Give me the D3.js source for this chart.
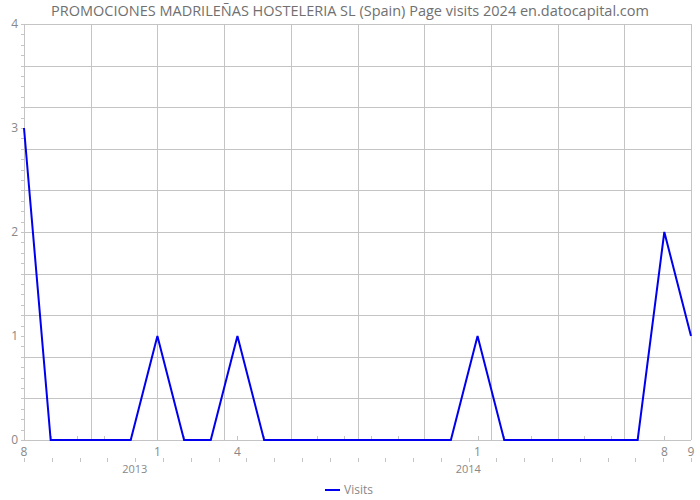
<!DOCTYPE html>
<html><head><meta charset="utf-8">
<script src="https://cdn.jsdelivr.net/npm/d3@7"></script>
<style>body{margin:0;background:#fff}svg{display:block}text{font-family:"Open Sans",sans-serif}</style>
</head><body><svg id="c" width="700" height="500"></svg>
<script>
const title = "PROMOCIONES MADRILEÑAS HOSTELERIA SL (Spain) Page visits 2024 en.datocapital.com";
const months = ["2012-08","2012-09","2012-10","2012-11","2012-12","2013-01","2013-02","2013-03","2013-04","2013-05","2013-06","2013-07","2013-08","2013-09","2013-10","2013-11","2013-12","2014-01","2014-02","2014-03","2014-04","2014-05","2014-06","2014-07","2014-08","2014-09"];
const visits = [3,0,0,0,0,1,0,0,1,0,0,0,0,0,0,0,0,1,0,0,0,0,0,0,2,1];
const tickIndex = [0,5,8,17,24,25];
const tickLabels = ["8","1","4","1","8","9"];
const yearPos = [4.15,16.65];
const yearLabels = ["2013","2014"];
const yTicks = [0,1,2,3,4];
const seriesName = "Visits";

const svg = d3.select("#c");
const L=24,R=691,T=24,B=440;
const x = d3.scaleLinear().domain([0,months.length-1]).range([L,R]);
const y = d3.scaleLinear().domain([0,4]).range([B,T]);
const grid="#c4c4c4", txt="#888";

svg.append("text").attr("x",350).attr("y",16).attr("text-anchor","middle")
  .attr("font-size",14.5).attr("fill","#707070").text(title);

const g = svg.append("g");
d3.range(0,4.0001,0.4).forEach(v=>{
  g.append("line").attr("x1",L).attr("x2",R).attr("y1",Math.round(y(v))+0.5).attr("y2",Math.round(y(v))+0.5).attr("stroke",grid);
});
const xg = d3.scaleLinear().domain([0,10]).range([L,R]);
d3.range(0,11).forEach(i=>{
  g.append("line").attr("x1",Math.round(xg(i))+0.5).attr("x2",Math.round(xg(i))+0.5).attr("y1",T).attr("y2",B).attr("stroke",grid);
});
d3.range(0,4.0001,0.1).forEach(v=>{
  g.append("line").attr("x1",L-3).attr("x2",L).attr("y1",Math.round(y(v))+0.5).attr("y2",Math.round(y(v))+0.5).attr("stroke",grid);
});
months.forEach((m,i)=>{
  g.append("line").attr("x1",Math.round(x(i))+0.5).attr("x2",Math.round(x(i))+0.5).attr("y1",B-4).attr("y2",B).attr("stroke",grid);
});
const xm = d3.scaleLinear().domain([0,24]).range([L,R]);
d3.range(0,25).forEach(i=>{
  g.append("line").attr("x1",Math.round(xm(i))+0.5).attr("x2",Math.round(xm(i))+0.5).attr("y1",458).attr("y2",462).attr("stroke",grid);
});

yTicks.forEach(v=>{
  svg.append("text").attr("x",L-6).attr("y",y(v)+4).attr("text-anchor","end").attr("font-size",12).attr("fill",txt).text(v);
});
tickIndex.forEach((idx,k)=>{
  svg.append("text").attr("x",x(idx)).attr("y",456).attr("text-anchor","middle").attr("font-size",12).attr("fill",txt).text(tickLabels[k]);
});
yearPos.forEach((p,k)=>{
  svg.append("text").attr("x",x(p)).attr("y",473).attr("text-anchor","middle").attr("font-size",11).attr("fill",txt).text(yearLabels[k]);
});

const line = d3.line().x((d,i)=>x(i)).y(d=>y(d));
svg.append("path").datum(visits).attr("d",line).attr("fill","none").attr("stroke","#0000ee").attr("stroke-width",2).attr("stroke-linejoin","miter");

svg.append("line").attr("x1",325).attr("x2",340).attr("y1",490).attr("y2",490).attr("stroke","#0000ee").attr("stroke-width",2);
svg.append("text").attr("x",344).attr("y",494).attr("font-size",12).attr("fill",txt).text(seriesName);
</script></body></html>
